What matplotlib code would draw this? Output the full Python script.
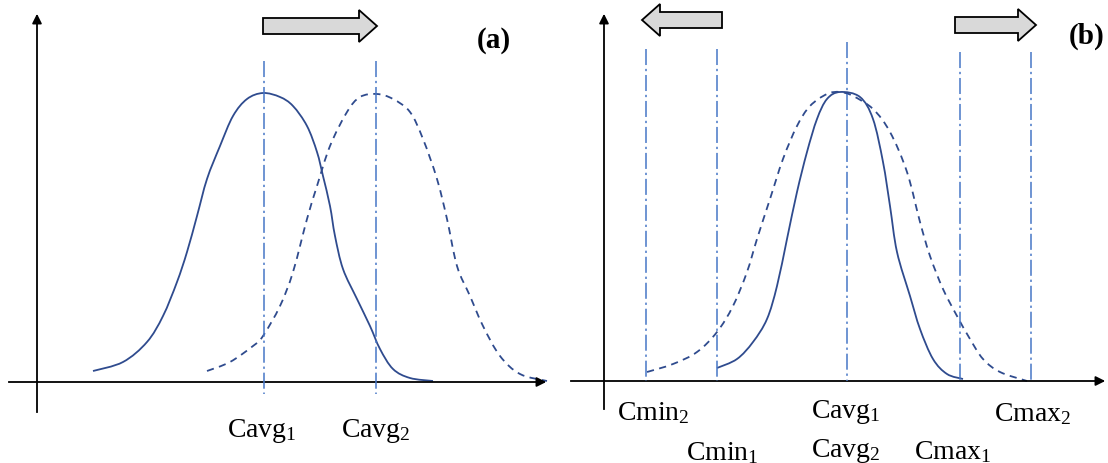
import matplotlib.pyplot as plt
from matplotlib.path import Path
from matplotlib.patches import PathPatch, FancyArrow

plt.rcParams['mathtext.fontset'] = 'custom'
plt.rcParams['mathtext.rm'] = 'Liberation Serif'
plt.rcParams['mathtext.it'] = 'Liberation Serif:italic'

# panel (a): points (pixel coords, y downwards)
a_solid_x = [93, 123, 147, 163, 177, 187, 197, 207, 220, 233, 247, 263, 280, 293, 307,
             317, 323, 330, 335, 343, 357, 370, 380, 393, 410, 433]
a_solid_y = [372, 363, 343, 317, 283, 253, 217, 180, 147, 117, 100, 94, 98, 107, 127,
             153, 177, 207, 237, 270, 300, 327, 350, 370, 379, 382]
a_dash_x = [207, 230, 253, 263, 280, 293, 307, 317, 330, 347, 360, 377, 393, 410, 423,
            437, 447, 457, 470, 483, 500, 520, 547]
a_dash_y = [372, 363, 347, 337, 307, 273, 220, 187, 147, 113, 98, 95, 100, 113, 140,
            180, 220, 267, 297, 327, 357, 375, 382]
a_marks = [264, 376]
a_labels = ['Cavg$_1$', 'Cavg$_2$']
a_label_x = [262, 376]

# panel (b)
b_solid_x = [717, 737, 753, 767, 777, 787, 797, 807, 817, 827, 840, 860, 873, 883, 890,
             897, 910, 920, 933, 947, 963]
b_solid_y = [369, 360, 343, 320, 287, 240, 193, 153, 120, 100, 93, 98, 120, 163, 207,
             253, 297, 330, 360, 375, 380]
b_dash_x = [647, 673, 697, 717, 733, 747, 757, 770, 783, 797, 810, 827, 840, 853, 873,
            890, 907, 920, 930, 943, 957, 970, 983, 1000, 1027]
b_dash_y = [373, 365, 353, 333, 307, 273, 240, 200, 160, 127, 107, 95, 93, 97, 110,
            133, 173, 223, 257, 290, 317, 340, 360, 373, 382]
b_marks = [646, 717, 847, 960, 1031]
b_mark_tops = [50, 50, 43, 53, 53]
b_labels = ['Cmin$_2$', 'Cmin$_1$', 'Cavg$_1$', 'Cavg$_2$', 'Cmax$_1$', 'Cmax$_2$']
b_label_x = [653, 722, 846, 846, 953, 1033]
b_label_y = [420, 460, 418, 457, 459, 421]

CURVE = '#2f4b8e'
MARK = '#4776c6'
serif = 'Liberation Serif'


def smooth(ax, xs, ys, ls):
    # catmull-rom through the read points, drawn as cubic bezier pieces
    p = list(zip(xs, ys))
    n = len(p)
    verts = [p[0]]
    codes = [Path.MOVETO]
    for i in range(n - 1):
        p0 = p[i - 1] if i > 0 else p[i]
        p3 = p[i + 2] if i + 2 < n else p[i + 1]
        c1 = (p[i][0] + (p[i + 1][0] - p0[0]) / 6, p[i][1] + (p[i + 1][1] - p0[1]) / 6)
        c2 = (p[i + 1][0] - (p3[0] - p[i][0]) / 6, p[i + 1][1] - (p3[1] - p[i][1]) / 6)
        verts += [c1, c2, p[i + 1]]
        codes += [Path.CURVE4] * 3
    ax.add_patch(PathPatch(Path(verts, codes), fill=False, ec=CURVE, lw=1.3, ls=ls))


def axes_arrows(ax, x0, y0, xl, xr, yt, yb):
    ax.plot([x0, x0], [yb, yt + 8], color='black', lw=1.3)
    ax.plot([xl, xr - 8], [y0, y0], color='black', lw=1.3)
    ax.annotate('', xy=(x0, yt), xytext=(x0, yt + 12),
                arrowprops=dict(arrowstyle='-|>', color='black', lw=1.3, mutation_scale=14))
    ax.annotate('', xy=(xr, y0), xytext=(xr - 12, y0),
                arrowprops=dict(arrowstyle='-|>', color='black', lw=1.3, mutation_scale=14))


def block_arrow(ax, x, y, dx):
    ax.add_patch(FancyArrow(x, y, dx, 0, width=16, head_width=32, head_length=18,
                            length_includes_head=True, fc='#d9d9d9', ec='black', lw=1.3))


fig = plt.figure(figsize=(11.08, 4.64), dpi=100)
ax = fig.add_axes([0, 0, 1, 1])
ax.set_xlim(0, 1108)
ax.set_ylim(464, 0)
ax.axis('off')

dashdot = (0, (10.5, 2.5, 1.5, 2.5))

# (a)
axes_arrows(ax, 37, 383, 9, 549, 12, 413)
for xm in a_marks:
    ax.plot([xm, xm], [62, 395], color=MARK, lw=1.1, ls=dashdot)
smooth(ax, a_solid_x, a_solid_y, '-')
smooth(ax, a_dash_x, a_dash_y, (0, (4, 3)))
block_arrow(ax, 263, 27, 114)
for lx, lab in zip(a_label_x, a_labels):
    ax.text(lx, 437, lab, ha='center', va='baseline', fontsize=20, family=serif)
ax.text(494, 41, '(a)', ha='center', va='center', fontsize=21, family=serif, weight='bold')

# (b)
axes_arrows(ax, 604, 382, 571, 1108, 12, 410)
for xm, top in zip(b_marks, b_mark_tops):
    ax.plot([xm, xm], [top, 382], color=MARK, lw=1.1, ls=dashdot)
smooth(ax, b_solid_x, b_solid_y, '-')
smooth(ax, b_dash_x, b_dash_y, (0, (4, 3)))
block_arrow(ax, 722, 21, -80)
block_arrow(ax, 955, 26, 81)
for lx, ly, lab in zip(b_label_x, b_label_y, b_labels):
    ax.text(lx, ly, lab, ha='center', va='baseline', fontsize=20, family=serif)
ax.text(1087, 36, '(b)', ha='center', va='center', fontsize=21, family=serif, weight='bold')

fig.savefig('out.png', dpi=100)
